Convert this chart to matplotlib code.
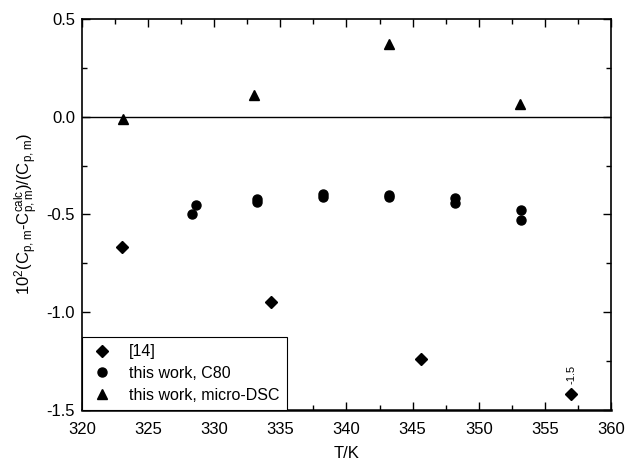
import numpy as np
import matplotlib.pyplot as plt
from matplotlib.ticker import MultipleLocator

plt.rcParams['font.family'] = ['Liberation Sans', 'DejaVu Sans']
plt.rcParams['mathtext.default'] = 'regular'
plt.rcParams['axes.unicode_minus'] = False

# [14]
T_lit = [323.0, 334.3, 345.6, 357.0]
d_lit = [-0.665, -0.947, -1.24, -1.42]

# this work, C80
T_c80 = [328.3, 328.6, 333.2, 333.2, 338.2, 338.2, 343.2, 343.2, 348.2, 348.2, 353.2, 353.2]
d_c80 = [-0.497, -0.453, -0.419, -0.435, -0.398, -0.410, -0.402, -0.410, -0.416, -0.441, -0.479, -0.530]

# this work, micro-DSC
T_dsc = [323.1, 333.0, 343.2, 353.1]
d_dsc = [-0.01, 0.11, 0.37, 0.065]

fig, ax = plt.subplots(figsize=(6.26, 4.63), dpi=100)
fig.subplots_adjust(left=0.131, right=0.976, top=0.959, bottom=0.115)

ax.axhline(0.0, color='black', lw=1.0, zorder=1)
ax.plot(T_lit, d_lit, 'D', color='black', ms=6.5, ls='none', label='[14]')
ax.plot(T_c80, d_c80, 'o', color='black', ms=6.5, ls='none', label='this work, C80')
ax.plot(T_dsc, d_dsc, '^', color='black', ms=7.5, ls='none', label='this work, micro-DSC')

ax.text(357.0, -1.37, '-1.5', rotation=90, ha='center', va='bottom', fontsize=8)

ax.set_xlim(320, 360)
ax.set_ylim(-1.5, 0.5)
ax.xaxis.set_major_locator(MultipleLocator(5))
ax.xaxis.set_minor_locator(MultipleLocator(2.5))
ax.yaxis.set_major_locator(MultipleLocator(0.5))
ax.yaxis.set_minor_locator(MultipleLocator(0.25))
ax.tick_params(which='both', direction='in', top=True, right=True, labelsize=12, width=1.0)
ax.tick_params(which='major', length=6)
ax.tick_params(which='minor', length=3.5)
ax.tick_params(axis='x', pad=9)
ax.tick_params(axis='y', pad=5)
for s in ax.spines.values():
    s.set_linewidth(1.2)
ax.spines['bottom'].set_linewidth(1.8)

ax.set_xlabel('T/K', fontsize=12, labelpad=6)
ax.set_ylabel(r'$10^2$(C$_{p,m}$-C$_{p,m}^{calc}$)/(C$_{p,m}$)', fontsize=12, labelpad=4)

leg = ax.legend(loc='lower left', borderaxespad=0, fancybox=False, framealpha=1,
                edgecolor='black', fontsize=11.5, handletextpad=0.9, borderpad=0.45,
                labelspacing=0.42, handlelength=1.6)
leg.get_frame().set_linewidth(0.8)

fig.savefig('out.png', dpi=100)
